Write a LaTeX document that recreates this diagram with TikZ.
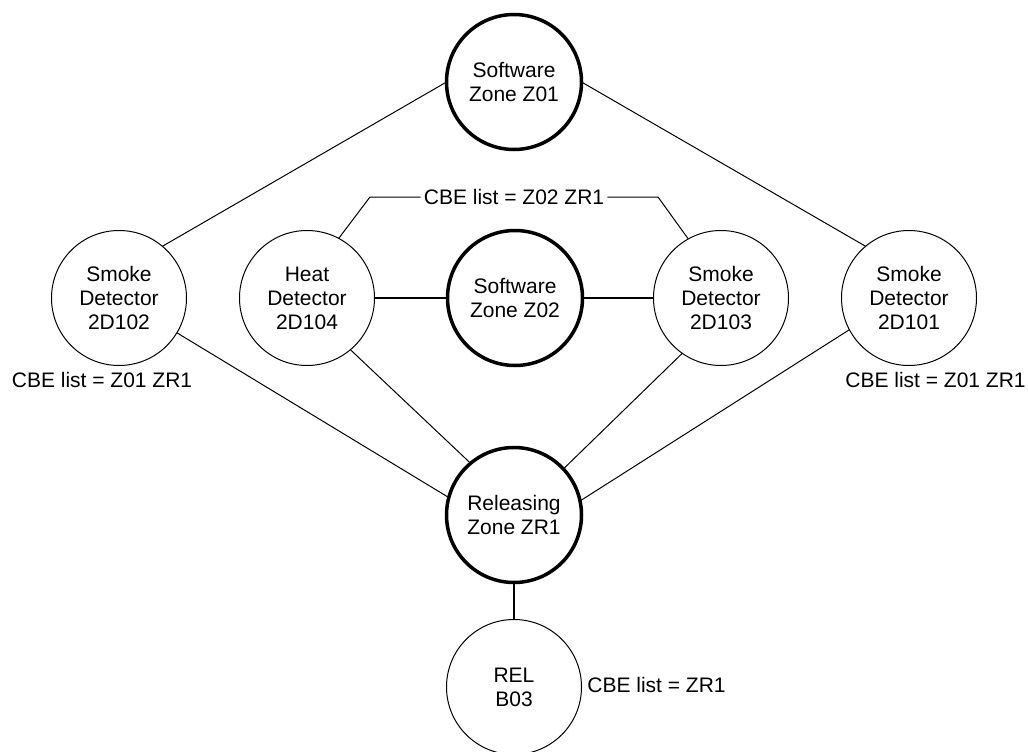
\documentclass[tikz,border=0pt]{standalone}
\usepackage{fontspec}
\setmainfont{Liberation Sans}
\begin{document}
\begin{tikzpicture}[x=1pt,y=-1pt,
  dev/.style={circle,draw,line width=1pt,minimum size=135pt,inner sep=0pt,outer sep=0pt,align=center,font=\fontsize{21}{24}\selectfont},
  zone/.style={dev,line width=3.5pt},
  thin/.style={line width=1pt},
  mid/.style={line width=2pt},
  lbl/.style={font=\fontsize{21}{24}\selectfont,inner sep=0pt}]
\useasboundingbox (0,0) rectangle (1028,752);
\node[zone] (z01) at (514,82) {Software\\Zone Z01};
\node[dev] (d102) at (119,298) {Smoke\\Detector\\2D102};
\node[dev] (d104) at (307,298) {Heat\\Detector\\2D104};
\node[zone] (z02) at (515,298) {Software\\Zone Z02};
\node[dev] (d103) at (721,298) {Smoke\\Detector\\2D103};
\node[dev] (d101) at (909,298) {Smoke\\Detector\\2D101};
\node[zone] (zr1) at (514,515) {Releasing\\Zone ZR1};
\node[dev] (b03) at (514,687) {REL\\B03};
\node[lbl] (cbe1) at (514,197) {CBE list = Z02 ZR1};
\node[lbl] (cbe2) at (102,380) {CBE list = Z01 ZR1};
\node[lbl] (cbe3) at (935.5,380) {CBE list = Z01 ZR1};
\node[lbl] (cbe4) at (656.5,685) {CBE list = ZR1};
\coordinate (bl) at (370,197);
\coordinate (br) at (658,197);
\draw[thin] (z01.west) -- (d102.50);
\draw[thin] (z01.east) -- (d101.130);
\draw[mid] (d104.east) -- (z02.west);
\draw[mid] (z02.east) -- (d103.west);
\draw[thin] (d102.-31) -- (zr1.165);
\draw[thin] (d104.-50) -- (zr1.130);
\draw[thin] (d103.-125) -- (zr1.43);
\draw[thin] (d101.208) -- (zr1.12);
\draw[mid] (zr1.south) -- (b03.north);
\draw[thin] (d104.62) -- (bl) -- ([xshift=-3pt]cbe1.west);
\draw[thin] ([xshift=3pt]cbe1.east) -- (br) -- (d103.119);
\end{tikzpicture}
\end{document}
